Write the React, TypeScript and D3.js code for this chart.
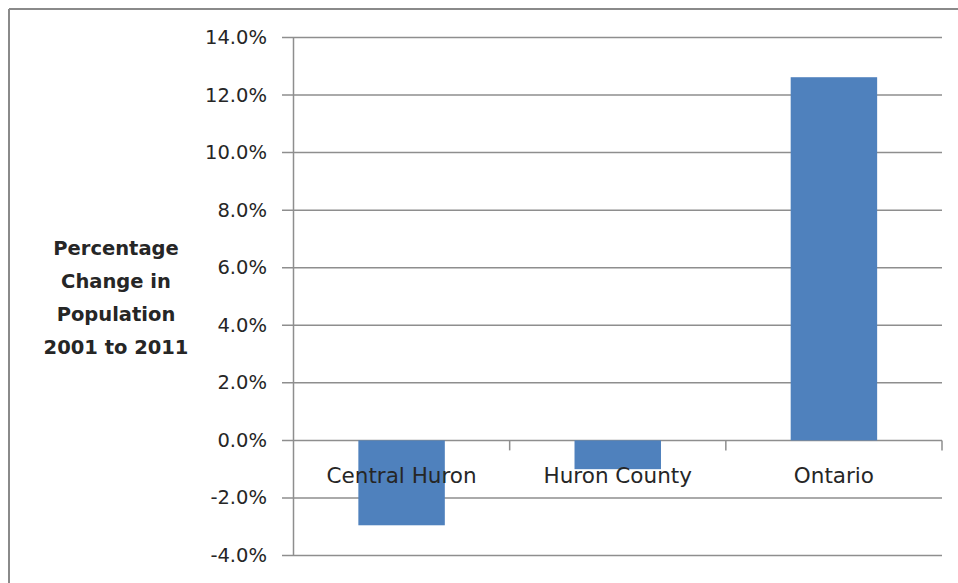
// @ts-nocheck
import { scaleBand, scaleLinear } from "d3";
import React from "react";

const categories = ["Central Huron", "Huron County", "Ontario"];
const changes = [-2.95, -1.0, 12.62];
const yTicks = [-4, -2, 0, 2, 4, 6, 8, 10, 12, 14];
const titleLines = ["Percentage", "Change in", "Population", "2001 to 2011"];

const W = 958;
const H = 583;

const App = () => {
  const x = scaleBand().domain(categories).range([293.5, 942]).paddingInner(0.6).paddingOuter(0.3);
  const y = scaleLinear().domain([-4, 14]).range([555.5, 37.5]);
  const font = "'DejaVu Sans', sans-serif";
  const gridColor = "#8e8e8e";
  const step = x.step();
  const left = 293.5;

  return (
    <svg width={W} height={H} style={{ position: "absolute", left: 0, top: 0, background: "#fff" }}>
      {/* outer frame (only top + left visible) */}
      <line x1={9} y1={9} x2={W} y2={9} stroke="#8a8a8a" strokeWidth={2} />
      <line x1={9} y1={9} x2={9} y2={H} stroke="#8a8a8a" strokeWidth={2} />

      {/* gridlines + ticks */}
      {yTicks.map((t) => (
        <g key={t}>
          <line x1={282} x2={942} y1={y(t)} y2={y(t)} stroke={gridColor} strokeWidth={1.5} />
          <text
            x={267}
            y={y(t)}
            textAnchor="end"
            dominantBaseline="central"
            fontFamily={font}
            fontSize={19.5}
            fill="#262626"
          >
            {t.toFixed(1) + "%"}
          </text>
        </g>
      ))}
      <line x1={left} x2={left} y1={y(14)} y2={y(-4)} stroke={gridColor} strokeWidth={1.5} />

      {/* bars */}
      {categories.map((c, i) => (
        <rect
          key={c}
          x={x(c)}
          width={x.bandwidth()}
          y={y(Math.max(0, changes[i]))}
          height={Math.abs(y(changes[i]) - y(0))}
          fill="#4f81bd"
        />
      ))}

      {/* category axis ticks */}
      {categories.map((c, i) => (
        <line
          key={"t" + c}
          x1={left + step * (i + 1)}
          x2={left + step * (i + 1)}
          y1={y(0)}
          y2={y(0) + 10}
          stroke={gridColor}
          strokeWidth={1.5}
        />
      ))}
      {categories.map((c) => (
        <text
          key={"l" + c}
          x={x(c) + x.bandwidth() / 2}
          y={475}
          textAnchor="middle"
          dominantBaseline="central"
          fontFamily={font}
          fontSize={21.5}
          fill="#262626"
        >
          {c}
        </text>
      ))}

      {/* y-axis title */}
      {titleLines.map((l, i) => (
        <text
          key={l}
          x={116}
          y={248 + i * 33}
          textAnchor="middle"
          dominantBaseline="central"
          fontFamily={font}
          fontWeight="bold"
          fontSize={19.5}
          fill="#262626"
        >
          {l}
        </text>
      ))}
    </svg>
  );
};

export default App;
